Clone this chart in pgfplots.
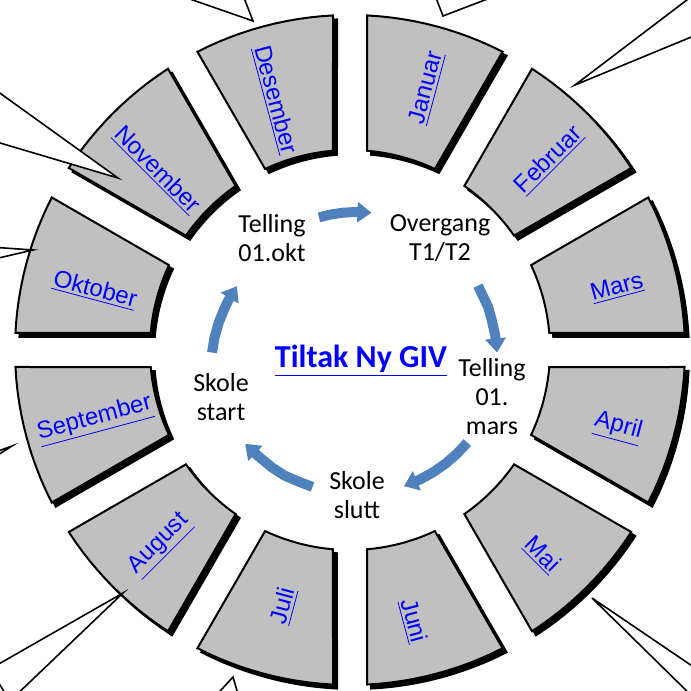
\documentclass[border=0pt]{standalone}
\usepackage{fontspec}
\setmainfont{Carlito}
\newfontfamily\arial{Liberation Sans}
\usepackage{pgfplots}
\usepackage{pgfplotstable}
\pgfplotsset{compat=1.18}
\usetikzlibrary{arrows.meta}
\definecolor{seggray}{RGB}{192,192,192}
\definecolor{arrowblue}{RGB}{79,129,189}
\definecolor{linkblue}{RGB}{0,0,255}

% template of one ring segment: angle offset (deg), radius (px)
\pgfplotstableread{
a r
2.91 335
5 335
7 335
9 335
11 335
13 335
15 335
17 335
19 335
21 335
23 335
25 335
27.09 335
25.12 200
23 200
21 200
19 200
17 200
15 200
13 200
11 200
9 200
7 200
4.88 200
}\seg

\begin{document}
\begin{tikzpicture}
\begin{axis}[hide axis, scale only axis, width=345.5pt, height=345.5pt,
  xmin=-350, xmax=341, ymin=-341, ymax=350, clip=true]

% ring segments with shadows
\pgfplotsinvokeforeach{0,30,60,90,120,150,180,210,240,270,300,330}{
  \addplot[fill=black, draw=black, line width=1pt, xshift=2pt, yshift=-2pt, data cs=polar]
    table[x expr=\thisrow{a}+#1, y=r] {\seg} -- cycle;
  \addplot[fill=seggray, draw=black, line width=1pt, line join=miter, data cs=polar]
    table[x expr=\thisrow{a}+#1, y=r] {\seg} -- cycle;
}

% callout pointers
\addplot[fill=white, draw=black, line width=0.8pt] coordinates {(-186,360) (-97,329) (-109,360)} -- cycle;
\addplot[fill=white, draw=black, line width=0.8pt] coordinates {(83,360) (93,334) (161,360)} -- cycle;
\addplot[fill=white, draw=black, line width=0.8pt] coordinates {(350,360) (225,265) (351,317)} -- cycle;
\addplot[fill=white, draw=black, line width=0.8pt] coordinates {(-360,264) (-232,172) (-360,210)} -- cycle;
\addplot[fill=white, draw=black, line width=0.8pt] coordinates {(-360,103) (-317,100) (-360,90)} -- cycle;
\addplot[fill=white, draw=black, line width=0.8pt] coordinates {(-360,-104) (-338,-96) (-360,-110)} -- cycle;
\addplot[fill=white, draw=black, line width=0.8pt] coordinates {(-360,-319) (-227,-243) (-340,-351)} -- cycle;
\addplot[fill=white, draw=black, line width=0.8pt] coordinates {(-139,-351) (-117,-327) (-110,-351)} -- cycle;
\addplot[fill=white, draw=black, line width=0.8pt] coordinates {(351,-322) (242,-248) (347,-351)} -- cycle;

% cycle arrows
\addplot[arrowblue, line width=5pt, -{Triangle[width=10pt,length=7pt]}, data cs=polar, xshift=3.5pt]
  coordinates {(106,138) (101,138) (96,138) (91,138) (84,138)};
\addplot[arrowblue, line width=5pt, -{Triangle[width=10pt,length=7pt]}, data cs=polar, xshift=3.5pt]
  coordinates {(28,137) (23,137) (18,138) (13,138) (6,139) (-1,140)};
\addplot[arrowblue, line width=5pt, -{Triangle[width=10pt,length=7pt]}, data cs=polar, xshift=3.5pt]
  coordinates {(-40,144) (-46,144) (-52,144) (-58,144) (-64,144) (-71,144)};
\addplot[arrowblue, line width=5pt, -{Triangle[width=10pt,length=7pt]}, data cs=polar, xshift=3.5pt]
  coordinates {(-108,144) (-114,144) (-120,145) (-126,145) (-133,145) (-140,146)};
\addplot[arrowblue, line width=5pt, -{Triangle[width=10pt,length=7pt]}, data cs=polar, xshift=3.5pt]
  coordinates {(181,145) (175,143) (169,141) (163,139) (159,138) (152,136)};

% month labels
\tikzset{month/.style={text=linkblue, font=\arial\fontsize{12}{14}\selectfont, inner sep=0pt}}
\node[month, rotate=75]  at (axis cs:77,262)   {\underline{Januar}};
\node[month, rotate=45]  at (axis cs:199,190)  {\underline{Februar}};
\node[month, rotate=15]  at (axis cs:267,62)   {\underline{Mars}};
\node[month, rotate=-15] at (axis cs:268,-78)  {\underline{April}};
\node[month, rotate=-45] at (axis cs:192,-205) {\underline{Mai}};
\node[month, rotate=-75] at (axis cs:63,-271)  {\underline{Juni}};
\node[month, rotate=75]  at (axis cs:-66,-256) {\underline{Juli}};
\node[month, rotate=45]  at (axis cs:-190,-195){\underline{August}};
\node[month, rotate=15]  at (axis cs:-255,-70) {\underline{September}};
\node[month, rotate=-15] at (axis cs:-255,60)  {\underline{Oktober}};
\node[month, rotate=-45] at (axis cs:-193,180) {\underline{November}};
\node[month, rotate=-75] at (axis cs:-75,250)  {\underline{Desember}};

% inner labels
\tikzset{lab/.style={align=center, font=\fontsize{13}{14.5}\selectfont, inner sep=0pt}}
\node[lab] at (axis cs:-78,112) {Telling\\01.okt};
\node[lab] at (axis cs:90,112)  {Overgang\\T1/T2};
\node[lab] at (axis cs:142,-47) {Telling\\01.\\mars};
\node[lab] at (axis cs:7,-145)  {Skole\\slutt};
\node[lab] at (axis cs:-129,-47){Skole\\start};
\node[text=linkblue, font=\bfseries\fontsize{16}{19}\selectfont, inner sep=0pt] at (axis cs:11,-11) {\underline{Tiltak Ny GIV}};
\end{axis}
\pgfresetboundingbox
\path (current axis.south west) rectangle (current axis.north east);
\end{tikzpicture}
\end{document}
